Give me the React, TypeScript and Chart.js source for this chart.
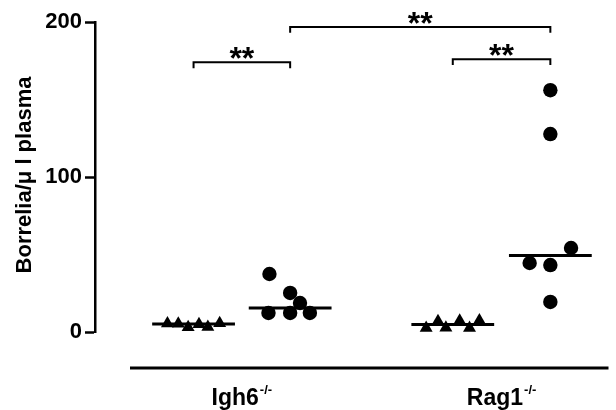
import React, { useEffect, useRef } from 'react';
import { Chart, registerables } from 'chart.js';

Chart.register(...registerables);

// ---- data ----
const groupLabels = ['Igh6', 'Rag1'];
const groupSuperscript = '-/-';
const yTickValues = [0, 100, 200];
const yTitle = 'Borrelia/\u03bc l plasma';

// column positions on the x axis (Igh6 triangles, Igh6 circles, Rag1 triangles, Rag1 circles)
const columnPositions = [1.0, 1.98, 3.63, 4.62];

const igh6TriangleValues = [5.5, 5.3, 3.0, 5.0, 3.3, 5.6];
const igh6CircleValues = [37.4, 25.2, 18.7, 12.3, 12.3, 12.3];
const rag1TriangleValues = [2.6, 7.0, 2.8, 7.2, 2.6, 7.4];
const rag1CircleValues = [156, 127.7, 54.2, 44.5, 43.2, 19.4];

// horizontal scatter spread within each column
const igh6TriangleJitter = [-0.265, -0.155, -0.055, 0.055, 0.145, 0.265];
const igh6CircleJitter = [-0.21, 0, 0.1, -0.22, 0, 0.2];
const rag1TriangleJitter = [-0.27, -0.15, -0.07, 0.07, 0.17, 0.27];
const rag1CircleJitter = [0, 0, 0.21, -0.21, 0, 0];

const comparisons = [
  { from: 0, to: 1, label: '**' },
  { from: 2, to: 3, label: '**' },
  { from: 1, to: 3, label: '**' },
];

// ---- layout constants ----
const bracketLevels = [174, 176, 196.8];
const bracketDrop = 3.8;
const medianHalfWidth = 0.42;
const FONT = '"Liberation Sans", Arial, Helvetica, sans-serif';

function median(arr: number[]) {
  const s = [...arr].sort((a, b) => a - b);
  const n = s.length;
  return n % 2 ? s[(n - 1) / 2] : (s[n / 2 - 1] + s[n / 2]) / 2;
}

const columns = [
  { values: igh6TriangleValues, jitter: igh6TriangleJitter, style: 'triangle', radius: 7.5 },
  { values: igh6CircleValues, jitter: igh6CircleJitter, style: 'circle', radius: 7.2 },
  { values: rag1TriangleValues, jitter: rag1TriangleJitter, style: 'triangle', radius: 7.5 },
  { values: rag1CircleValues, jitter: rag1CircleJitter, style: 'circle', radius: 7.2 },
];

const annotationPlugin = {
  id: 'annotations',
  afterDraw(chart: any) {
    const ctx = chart.ctx as CanvasRenderingContext2D;
    const xs = chart.scales.x;
    const ys = chart.scales.y;
    const area = chart.chartArea;
    ctx.save();
    ctx.fillStyle = '#000';
    ctx.strokeStyle = '#000';

    // separate x axis line below the data
    const axisY = area.bottom + 36;
    ctx.lineWidth = 3;
    ctx.beginPath();
    ctx.moveTo(area.left + 35, axisY);
    ctx.lineTo(area.right, axisY);
    ctx.stroke();

    // group labels with superscript
    const big = `bold 23px ${FONT}`;
    const small = `bold 13px ${FONT}`;
    groupLabels.forEach((lab, i) => {
      const cx =
        (xs.getPixelForValue(columnPositions[2 * i]) + xs.getPixelForValue(columnPositions[2 * i + 1])) / 2;
      ctx.font = big;
      const w1 = ctx.measureText(lab).width;
      ctx.font = small;
      const w2 = ctx.measureText(groupSuperscript).width;
      const left = cx - (w1 + w2 + 1) / 2;
      ctx.textAlign = 'left';
      ctx.textBaseline = 'alphabetic';
      ctx.font = big;
      ctx.fillText(lab, left, axisY + 37);
      ctx.font = small;
      ctx.fillText(groupSuperscript, left + w1 + 1, axisY + 26);
    });

    // significance stars
    ctx.font = `bold 32px ${FONT}`;
    ctx.textAlign = 'center';
    ctx.textBaseline = 'alphabetic';
    comparisons.forEach((c, i) => {
      const cx = (xs.getPixelForValue(columnPositions[c.from]) + xs.getPixelForValue(columnPositions[c.to])) / 2;
      const by = ys.getPixelForValue(bracketLevels[i]);
      const m = ctx.measureText(c.label);
      const target = by - 9;
      const base = target - (m.actualBoundingBoxDescent - m.actualBoundingBoxAscent) / 2;
      ctx.fillText(c.label, cx, base);
    });

    // y title
    ctx.translate(25, ys.getPixelForValue(100) - 2);
    ctx.rotate(-Math.PI / 2);
    ctx.font = `bold 22px ${FONT}`;
    ctx.textAlign = 'center';
    ctx.textBaseline = 'middle';
    ctx.fillText(yTitle, 0, 0);
    ctx.restore();
  },
};

export default function App() {
  const canvasRef = useRef<HTMLCanvasElement | null>(null);

  useEffect(() => {
    document.body.style.margin = '0';
    const canvas = canvasRef.current;
    if (!canvas) return;

    const datasets: any[] = [];
    columns.forEach((col, idx) => {
      const pos = columnPositions[idx];
      datasets.push({
        type: 'scatter',
        data: col.values.map((v, i) => ({ x: pos + col.jitter[i], y: v })),
        pointStyle: col.style,
        pointRadius: col.radius,
        backgroundColor: '#000',
        borderColor: '#000',
        borderWidth: 0,
        clip: false,
      });
    });
    columns.forEach((col, idx) => {
      const pos = columnPositions[idx];
      const md = median(col.values);
      datasets.push({
        type: 'scatter',
        showLine: true,
        data: [
          { x: pos - medianHalfWidth, y: md },
          { x: pos + medianHalfWidth, y: md },
        ],
        borderColor: '#000',
        borderWidth: 3,
        pointRadius: 0,
        clip: false,
      });
    });
    comparisons.forEach((c, i) => {
      const a = columnPositions[c.from];
      const b = columnPositions[c.to];
      const h = bracketLevels[i];
      datasets.push({
        type: 'scatter',
        showLine: true,
        data: [
          { x: a, y: h - bracketDrop },
          { x: a, y: h },
          { x: b, y: h },
          { x: b, y: h - bracketDrop },
        ],
        borderColor: '#000',
        borderWidth: 2,
        pointRadius: 0,
        clip: false,
      });
    });

    const chart = new Chart(canvas, {
      type: 'scatter',
      data: { datasets },
      options: {
        animation: false,
        responsive: false,
        layout: { padding: { top: 22, bottom: 78, left: 0, right: 0 } },
        plugins: { legend: { display: false }, tooltip: { enabled: false } },
        scales: {
          x: { type: 'linear', display: false, min: 0, max: 5.21 },
          y: {
            type: 'linear',
            min: 0,
            max: 200,
            afterBuildTicks: (scale: any) => {
              scale.ticks = yTickValues.map((v) => ({ value: v }));
            },
            afterFit: (scale: any) => {
              scale.width = 95;
            },
            border: { display: true, color: '#000', width: 2.5 },
            grid: {
              display: true,
              drawOnChartArea: false,
              drawTicks: true,
              tickLength: 10,
              tickColor: '#000',
              tickWidth: 2.5,
            },
            ticks: {
              color: '#000',
              padding: 3,
              font: { family: FONT, size: 22, weight: 'bold' },
            },
          },
        },
      },
      plugins: [annotationPlugin],
    } as any);

    return () => chart.destroy();
  }, []);

  return (
    <div style={{ width: 616, height: 410 }}>
      <canvas ref={canvasRef} width={616} height={410} style={{ display: 'block' }} />
    </div>
  );
}
